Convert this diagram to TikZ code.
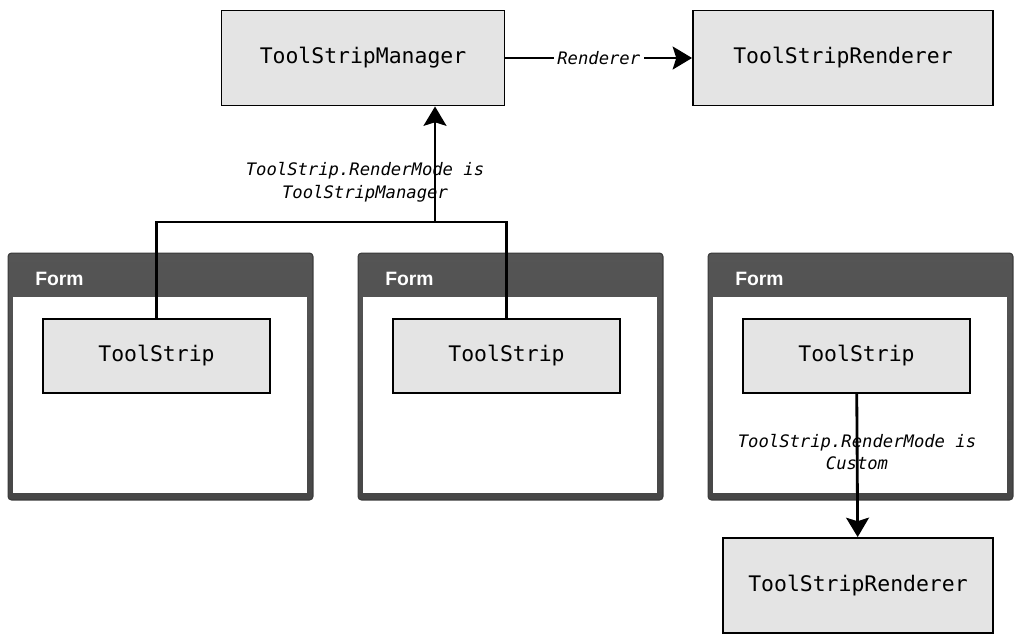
\documentclass[tikz,border=0pt]{standalone}
\usepackage{fontspec}
\setmainfont{Liberation Sans}
\setmonofont{DejaVu Sans Mono}
\usepackage{tikz}
\usetikzlibrary{arrows.meta, positioning, calc}
\definecolor{boxfill}{HTML}{E4E4E4}
\definecolor{formdark}{HTML}{474747}
\definecolor{formtop}{HTML}{555555}
\definecolor{formedge}{HTML}{3A3A3A}
\tikzset{
  cls/.style={rectangle, draw=black, fill=boxfill, line width=1.1pt, align=center, font=\fontsize{12.2}{14}\selectfont\ttfamily, inner sep=0pt},
  formbox/.style={rectangle, rounded corners=2pt, draw=formedge, top color=formtop, bottom color=formdark, line width=0.6pt, minimum width=6.1cm, minimum height=4.94cm, inner sep=0pt},
  formbody/.style={rectangle, fill=white, minimum width=5.88cm, minimum height=3.92cm, inner sep=0pt},
  formtitle/.style={font=\fontsize{11}{13}\selectfont\bfseries, text=white, anchor=west, inner sep=0pt},
  link/.style={line width=1.3pt},
  flow/.style={-{Stealth[length=11pt,width=13pt,inset=2pt]}, line width=1.6pt},
  flowlab/.style={font=\fontsize{9.8}{12}\selectfont\ttfamily\itshape, fill=white, inner sep=2pt},
  note/.style={font=\fontsize{9.8}{13}\selectfont\ttfamily\itshape, align=center, inner sep=0pt},
}
\begin{document}
\begin{tikzpicture}[x=0.02cm, y=-0.02cm]
  \useasboundingbox (0,0) rectangle (1014,640);

  % top row
  \node[cls, minimum width=5.66cm, minimum height=1.9cm] (mgr) at (363,58) {ToolStripManager};
  \node[cls, minimum width=6.0cm, minimum height=1.9cm] (rtop) at (843,58) {ToolStripRenderer};
  \draw[flow] (mgr) -- node[flowlab]{Renderer} (rtop);

  % the three forms
  \node[formbox] (form1) at (160.5,376.5) {};
  \node[formbody] (body1) at (160,395) {};
  \node[formtitle] (title1) at (35,279) {Form};
  \node[formbox] (form2) at (510.5,376.5) {};
  \node[formbody] (body2) at (510,395) {};
  \node[formtitle] (title2) at (385,279) {Form};
  \node[formbox] (form3) at (860.5,376.5) {};
  \node[formbody] (body3) at (860,395) {};
  \node[formtitle] (title3) at (735,279) {Form};

  \node[cls, minimum width=4.54cm, minimum height=1.48cm] (ts1) at (156.5,356) {ToolStrip};
  \node[cls, minimum width=4.54cm, minimum height=1.48cm] (ts2) at (506.5,356) {ToolStrip};
  \node[cls, minimum width=4.54cm, minimum height=1.48cm] (ts3) at (856.5,356) {ToolStrip};

  \node[cls, minimum width=5.4cm, minimum height=1.9cm] (rbot) at (858,585.5) {ToolStripRenderer};

  % manager mode
  \coordinate (tap) at (435,222);
  \draw[link] (ts1.north) -- (ts1.north |- tap) -- (ts2.north |- tap) -- (ts2.north);
  \draw[flow] (tap) -- (tap |- mgr.south);
  \node[note] (mgrlbl) at (365,182) {ToolStrip.RenderMode is\\ToolStripManager};

  % custom mode
  \draw[flow] (ts3) -- (rbot);
  \node[note] (custlbl) at (857,452) {ToolStrip.RenderMode is\\Custom};
\end{tikzpicture}
\end{document}
